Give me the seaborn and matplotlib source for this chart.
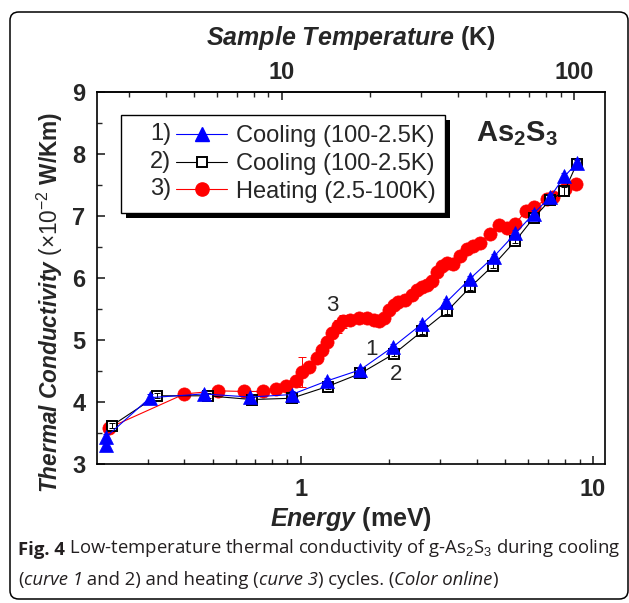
import numpy as np
import pandas as pd
import matplotlib
matplotlib.use("Agg")
import matplotlib.pyplot as plt
import seaborn as sns
from matplotlib.lines import Line2D
from matplotlib.legend_handler import HandlerLine2D
from matplotlib.text import Text
from matplotlib.patches import FancyBboxPatch
import matplotlib.patheffects as pe
from matplotlib.ticker import FixedLocator, NullFormatter, FuncFormatter

# ---------------- data ----------------
# curve 1: cooling (blue triangles)
e_cool1 = [0.215, 0.215, 0.305, 0.465, 0.67, 0.93, 1.23, 1.60, 2.07, 2.60, 3.15,
           3.80, 4.57, 5.43, 6.27, 7.15, 7.99, 8.85]
k_cool1 = [3.30, 3.43, 4.07, 4.13, 4.08, 4.12, 4.34, 4.52, 4.89, 5.26, 5.61,
           5.99, 6.34, 6.72, 7.04, 7.31, 7.64, 7.86]
err_cool1 = [0.08, 0.06, 0.06, 0.05, 0.05, 0.05, 0.05, 0.05, 0.05, 0.05, 0.05,
             0.05, 0.05, 0.05, 0.05, 0.05, 0.06, 0.06]

# curve 2: cooling (black open squares)
e_cool2 = [0.226, 0.322, 0.48, 0.68, 0.93, 1.235, 1.60, 2.09, 2.60, 3.16,
           3.80, 4.55, 5.43, 6.27, 7.15, 7.99, 8.80]
k_cool2 = [3.62, 4.10, 4.10, 4.04, 4.06, 4.25, 4.46, 4.78, 5.14, 5.46,
           5.85, 6.20, 6.60, 6.97, 7.26, 7.40, 7.84]
err_cool2 = [0.04, 0.04, 0.04, 0.04, 0.04, 0.04, 0.04, 0.04, 0.04, 0.04,
             0.04, 0.04, 0.04, 0.04, 0.04, 0.06, 0.06]

# curve 3: heating (red circles)
e_heat = [0.22, 0.40, 0.52, 0.64, 0.74, 0.82, 0.89, 0.96, 1.01, 1.07, 1.14, 1.18,
          1.23, 1.28, 1.34, 1.40, 1.48, 1.58, 1.69, 1.78, 1.85, 1.92, 2.00, 2.08,
          2.16, 2.28, 2.40, 2.50, 2.60, 2.70, 2.81, 2.93, 3.04, 3.16, 3.33, 3.50,
          3.70, 3.90, 4.12, 4.43, 4.76, 5.09, 5.43, 5.88, 6.30, 6.96, 7.33, 8.05, 8.72]
k_heat = [3.58, 4.13, 4.18, 4.17, 4.17, 4.21, 4.26, 4.34, 4.49, 4.56, 4.71, 4.84,
          4.97, 5.11, 5.22, 5.30, 5.32, 5.35, 5.36, 5.32, 5.30, 5.35, 5.48, 5.56,
          5.62, 5.64, 5.72, 5.80, 5.86, 5.89, 5.95, 6.10, 6.20, 6.24, 6.22, 6.35,
          6.47, 6.52, 6.56, 6.71, 6.86, 6.80, 6.87, 7.08, 7.15, 7.27, 7.30, 7.43, 7.52]
err_heat = [0.04, 0.04, 0.04, 0.04, 0.04, 0.04, 0.05, 0.06, 0.24, 0.08, 0.08, 0.08,
            0.08, 0.08, 0.10, 0.10, 0.06, 0.05, 0.05, 0.05, 0.05, 0.05, 0.05, 0.05,
            0.05, 0.05, 0.05, 0.05, 0.05, 0.05, 0.05, 0.05, 0.05, 0.05, 0.05, 0.05,
            0.05, 0.05, 0.05, 0.05, 0.05, 0.05, 0.05, 0.05, 0.05, 0.05, 0.05, 0.05, 0.05]

legend_numbers = ["1)", "2)", "3)"]
legend_labels = ["Cooling (100-2.5K)", "Cooling (100-2.5K)", "Heating (2.5-100K)"]
x_major = [1, 10]
t_major = [10, 100]
t_minor = [3, 4, 5, 6, 7, 8, 9, 20, 30, 40, 50, 60, 70, 80, 90]
y_major = [3, 4, 5, 6, 7, 8, 9]
KB = 0.08617  # meV per K

# ---------------- style ----------------
sns.set_style("white")
plt.rcParams["font.family"] = ["Liberation Sans", "DejaVu Sans"]
plt.rcParams["font.weight"] = "bold"
plt.rcParams["xtick.labelsize"] = 17
plt.rcParams["ytick.labelsize"] = 17
plt.rcParams["mathtext.fontset"] = "custom"
plt.rcParams["mathtext.rm"] = "Liberation Sans:normal"
plt.rcParams["mathtext.it"] = "Liberation Sans:italic:normal"
plt.rcParams["mathtext.bf"] = "Liberation Sans:bold"
plt.rcParams["mathtext.bfit"] = "Liberation Sans:italic:bold"
plt.rcParams["axes.linewidth"] = 1.2

W, H = 629, 603
fig = plt.figure(figsize=(W / 100, H / 100), dpi=100)
ax_l, ax_r, ax_b, ax_t = 96.5, 605, 464, 92
ax = fig.add_axes([ax_l / W, 1 - ax_b / H, (ax_r - ax_l) / W, (ax_b - ax_t) / H])
ax.set_facecolor("white")
ax.set_xscale("log")

blue, red = "#0000ff", "#ff0000"

df1 = pd.DataFrame({"E": e_cool1, "K": k_cool1})
df2 = pd.DataFrame({"E": e_cool2, "K": k_cool2})
df3 = pd.DataFrame({"E": e_heat, "K": k_heat})

# heating (bottom)
sns.lineplot(data=df3, x="E", y="K", ax=ax, estimator=None, sort=False, legend=False,
             color=red, lw=0.8, marker="o", markersize=9.5, mfc=red, mec=red, mew=0.5, zorder=2)
ax.errorbar(e_heat, k_heat, yerr=err_heat, fmt="none", ecolor=red, elinewidth=0.7,
            capsize=3, capthick=0.7, zorder=2.1)
# cooling 2
sns.lineplot(data=df2, x="E", y="K", ax=ax, estimator=None, sort=False, legend=False,
             color="black", lw=0.8, marker="s", markersize=6.8, mfc="white", mec="black",
             mew=1.4, zorder=3)
ax.errorbar(e_cool2, k_cool2, yerr=err_cool2, fmt="none", ecolor="black", elinewidth=0.7,
            capsize=2, capthick=0.7, zorder=3.1)
# cooling 1 (top)
sns.lineplot(data=df1, x="E", y="K", ax=ax, estimator=None, sort=False, legend=False,
             color=blue, lw=0.8, marker="^", markersize=10, mfc=blue, mec=blue, mew=0.5, zorder=4)
ax.errorbar(e_cool1, k_cool1, yerr=err_cool1, fmt="none", ecolor=blue, elinewidth=0.7,
            capsize=2, capthick=0.7, zorder=4.1)

ax.set_xlim(0.2, 11.0)
ax.set_ylim(3, 9)

# ---- ticks ----
ax.xaxis.set_major_locator(FixedLocator(x_major))
ax.xaxis.set_major_formatter(FuncFormatter(lambda v, p: f"{v:g}"))
ax.xaxis.set_minor_locator(FixedLocator([0.3, 0.4, 0.5, 0.6, 0.7, 0.8, 0.9,
                                         2, 3, 4, 5, 6, 7, 8, 9]))
ax.xaxis.set_minor_formatter(NullFormatter())
ax.yaxis.set_major_locator(FixedLocator(y_major))
ax.yaxis.set_major_formatter(FuncFormatter(lambda v, p: f"{v:g}"))
ax.yaxis.set_minor_locator(FixedLocator([3.5, 4.5, 5.5, 6.5, 7.5, 8.5]))
ax.tick_params(axis="both", which="major", direction="in", length=6, width=1.2,
               top=False, right=False, bottom=True, left=True)
ax.tick_params(axis="both", which="minor", direction="in", length=3.5, width=1.0,
               top=False, right=False, bottom=True, left=True)
ax.tick_params(axis="x", which="major", pad=10)
ax.tick_params(axis="y", which="major", pad=8)
for s in ax.spines.values():
    s.set_linewidth(1.2)
    s.set_color("black")

# top temperature axis
sec = ax.secondary_xaxis("top", functions=(lambda e: e / KB, lambda t: t * KB))
sec.set_xscale("log")
sec.xaxis.set_major_locator(FixedLocator(t_major))
sec.xaxis.set_major_formatter(FuncFormatter(lambda v, p: f"{v:g}"))
sec.xaxis.set_minor_locator(FixedLocator(t_minor))
sec.xaxis.set_minor_formatter(NullFormatter())
sec.tick_params(which="major", direction="in", length=6, width=1.2, pad=6)
sec.tick_params(which="minor", direction="in", length=3.5, width=1.0)
sec.spines["top"].set_linewidth(1.2)

# ---- axis labels ----
lab_kw = dict(family="Liberation Sans", weight="bold", size=18)
ax.set_xlabel(r"$\mathbfit{Energy}$ (meV)", **lab_kw, va="center")
ax.xaxis.set_label_coords(0.5, (ax_b - 519) / (ax_b - ax_t))
sec.set_xlabel(r"$\mathbfit{Sample\ Temperature}$ (K)", **lab_kw, va="center")
sec.xaxis.set_label_coords(0.5, (ax_b - 38) / (ax_b - ax_t), transform=ax.transAxes)
ax.set_ylabel(r"$\mathbfit{Thermal\ Conductivity}$ $\mathrm{(\times10^{-2}}$ W/Km)",
              family="Liberation Sans", weight="bold", size=16.3, va="center")
ax.yaxis.set_label_coords((50 - ax_l) / (ax_r - ax_l), (ax_b - 302) / (ax_b - ax_t))

# ---- legend ----
class NumberedHandler(HandlerLine2D):
    def __init__(self, num, frac=0.45, **kw):
        super().__init__(**kw)
        self.num = num
        self.frac = frac

    def create_artists(self, legend, orig_handle, xdescent, ydescent, width, height,
                       fontsize, trans):
        off = width * self.frac
        arts = super().create_artists(legend, orig_handle, xdescent - off, ydescent,
                                      width - off, height, fontsize, trans)
        t = Text(-xdescent + off - 0.2 * fontsize, (height - ydescent) / 2, self.num,
                 ha="right", va="center", fontsize=fontsize, family="Liberation Sans",
                 weight="normal", transform=trans)
        return list(arts) + [t]

h1 = Line2D([], [], color=blue, lw=0.8, marker="^", ms=10, mfc=blue, mec=blue)
h2 = Line2D([], [], color="black", lw=0.8, marker="s", ms=6.8, mfc="white", mec="black", mew=1.4)
h3 = Line2D([], [], color=red, lw=0.8, marker="o", ms=9.5, mfc=red, mec=red)
handles = [h1, h2, h3]
hmap = {h: NumberedHandler(n, frac=0.47, numpoints=1) for h, n in zip(handles, legend_numbers)}
leg = ax.legend(handles, legend_labels, handler_map=hmap, loc="upper left",
                bbox_to_anchor=(120.7 / W, 1 - 115 / H), bbox_transform=fig.transFigure,
                borderaxespad=0, frameon=True, fancybox=False, borderpad=0.42,
                labelspacing=0.25, handlelength=4.1, handletextpad=0.35,
                prop=dict(family="Liberation Sans", size=17, weight="normal"))
fr = leg.get_frame()
fr.set_edgecolor("black")
fr.set_linewidth(1.0)
fr.set_alpha(1)
fr.set_path_effects([pe.SimplePatchShadow(offset=(3.5, -3.5), shadow_rgbFace="black", alpha=1),
                     pe.Normal()])

# ---- annotations ----
ax.text(476 / W, 1 - 134 / H, r"As$_\mathbf{2}$S$_\mathbf{3}$", transform=fig.transFigure,
        family="Liberation Sans", weight="bold", size=21, ha="left", va="center")
for txt, xe, yk in [("3", 1.28, 5.56), ("1", 1.75, 4.84), ("2", 2.12, 4.44)]:
    ax.text(xe, yk, txt, family="Liberation Sans", weight="normal", size=16,
            ha="center", va="center")

# ---- figure border ----
border = FancyBboxPatch((10 / W, 4 / H), (628 - 10) / W, (591 - 4) / H,
                        boxstyle="round,pad=0,rounding_size=0.014",
                        transform=fig.transFigure, fill=False, ec="black", lw=1.1)
fig.patches.append(border)

# ---- caption ----
cap_font = ["Open Sans", "DejaVu Sans"]
cap_size = 13.3
cap_col = "#231f20"
base = dict(family=cap_font, size=cap_size, color=cap_col)
t = fig.text(18 / W, 1 - 559 / H, "Fig. 4", weight="bold", ha="left", va="bottom", **base)
t = plt.annotate(" Low-temperature thermal conductivity of g-As$_2$S$_3$ during cooling",
                 xy=(1, 0), xycoords=t, ha="left", va="bottom", weight="normal", **base)
parts = [("(", "normal"), ("curve 1", "italic"), (" and 2) and heating (", "normal"),
         ("curve 3", "italic"), (") cycles. (", "normal"), ("Color online", "italic"),
         (")", "normal")]
t = fig.text(18 / W, 1 - 589 / H, parts[0][0], style=parts[0][1], weight="normal",
             ha="left", va="bottom", **base)
for s, st in parts[1:]:
    t = plt.annotate(s, xy=(1, 0), xycoords=t, ha="left", va="bottom", style=st,
                     weight="normal", **base)

fig.savefig("out.png", dpi=100, facecolor="white")
